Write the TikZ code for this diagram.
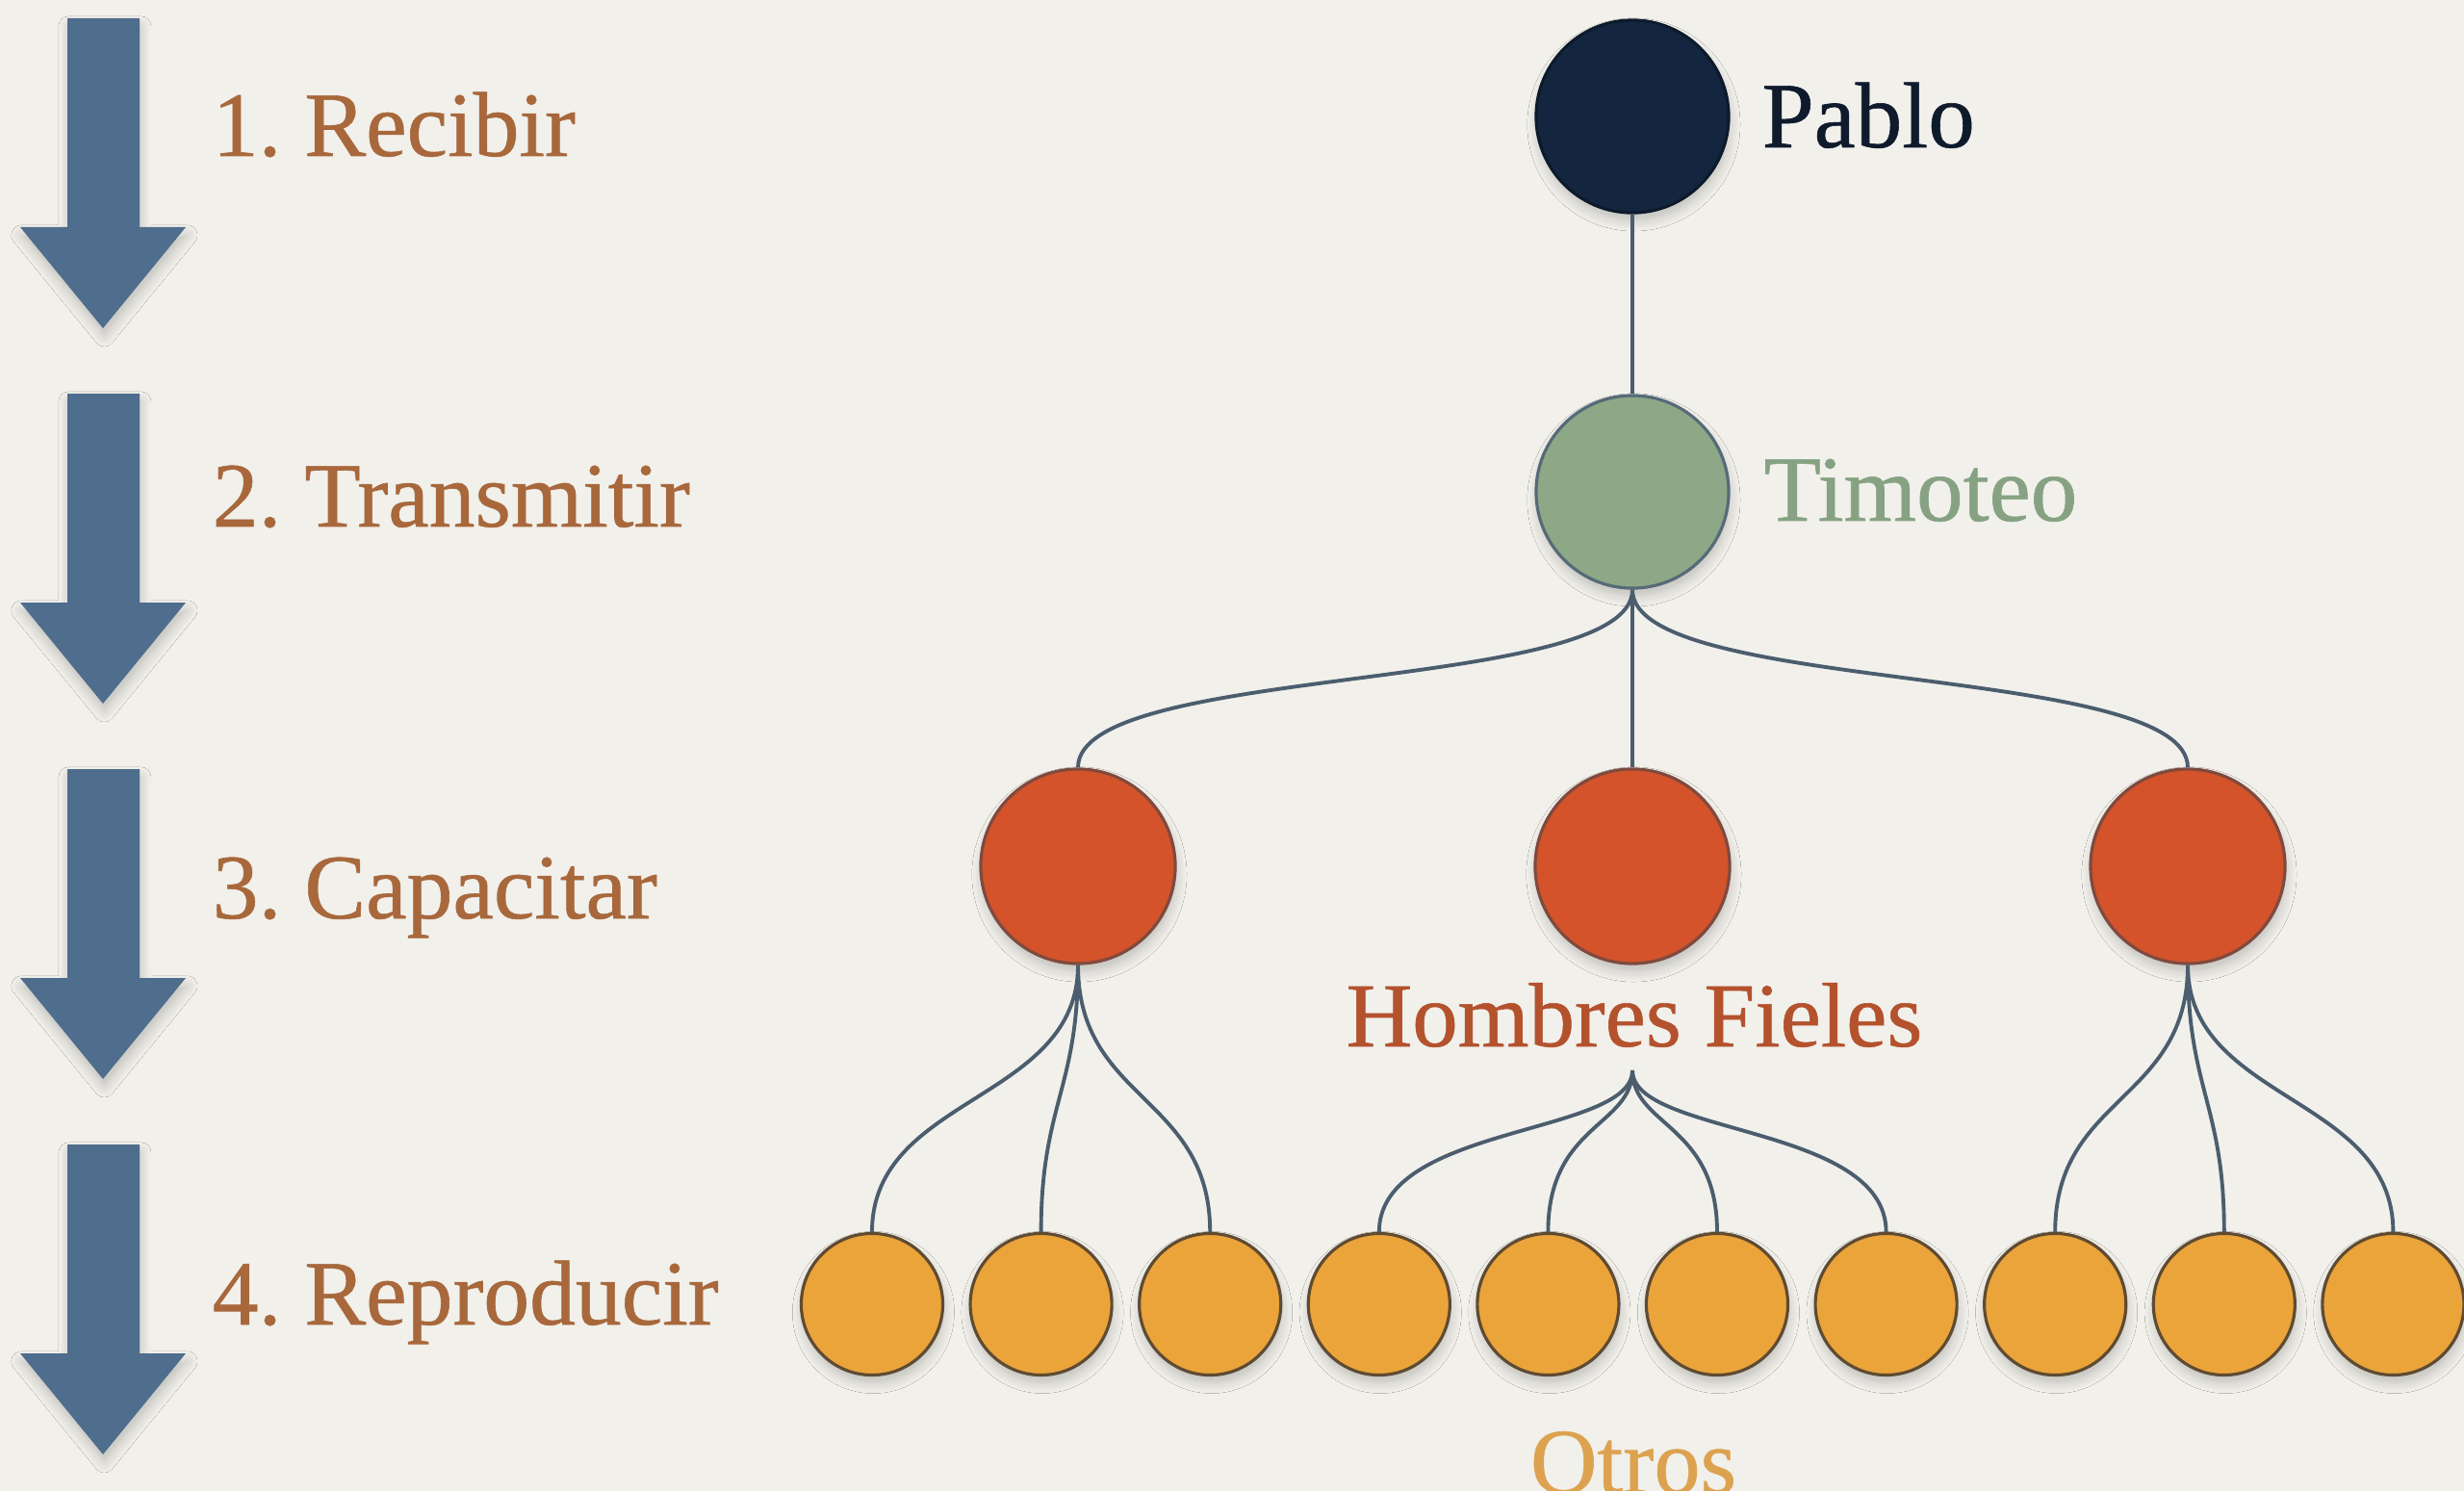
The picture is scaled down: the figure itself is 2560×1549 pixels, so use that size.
\documentclass[tikz,border=0pt]{standalone}
\usepackage{fontspec}
\setmainfont[FakeBold=0.6]{Liberation Serif}
\usetikzlibrary{shadows.blur}
\definecolor{bg}{HTML}{F1F0EB}
\definecolor{arrowblue}{HTML}{4F6D8C}
\definecolor{labbrown}{HTML}{A8683C}
\definecolor{navy}{HTML}{14263F}
\definecolor{navyedge}{HTML}{0D1A2C}
\definecolor{navytext}{HTML}{0F1B2D}
\definecolor{sage}{HTML}{8CA886}
\definecolor{sagetext}{HTML}{86A282}
\definecolor{edgeblue}{HTML}{566A78}
\definecolor{redfill}{HTML}{D4532A}
\definecolor{rededge}{HTML}{7F4A3E}
\definecolor{redtext}{HTML}{B4522E}
\definecolor{orangefill}{HTML}{EBA43A}
\definecolor{orangeedge}{HTML}{5F4B32}
\definecolor{goldtext}{HTML}{DDA24F}
\definecolor{linecol}{HTML}{4B5D6E}
\tikzset{
  softshadow/.style={blur shadow={shadow xshift=0.4pt, shadow yshift=-2.4pt, shadow blur radius=3pt, shadow blur steps=6, shadow opacity=20}},
  downarrow/.style={fill=arrowblue, softshadow},
  person/.style={circle, inner sep=0pt, line width=0.9pt, softshadow},
  pablo/.style={person, fill=navy, draw=navyedge, minimum size=2cm},
  timo/.style={person, fill=sage, draw=edgeblue, minimum size=2cm},
  fiel/.style={person, fill=redfill, draw=rededge, minimum size=2.02cm},
  otro/.style={person, fill=orangefill, draw=orangeedge, minimum size=1.47cm},
  steplabel/.style={inner sep=0pt, text=labbrown, font=\fontsize{27.2}{30}\selectfont, anchor=base west},
  personlabel/.style={inner sep=0pt, font=\fontsize{27.6}{31}\selectfont, anchor=base west},
  conn/.style={draw=linecol, line width=1.1pt},
}
\begin{document}
\frenchspacing
\begin{tikzpicture}[x=0.01cm,y=-0.01cm]
\fill[bg] (0,0) rectangle (2560,1549);
\useasboundingbox (0,0) rectangle (2560,1549);

% left arrows
\foreach \t in {0,390,780,1170}{
  \path[downarrow] (70,{19+\t}) -- (145,{19+\t}) -- (145,{236+\t}) -- (193,{236+\t})
    -- (107,{341+\t}) -- (21,{236+\t}) -- (70,{236+\t}) -- cycle;
}

% step labels
\node[steplabel] (L1) at (220,162) {1. Recibir};
\node[steplabel] (L2) at (220,547) {2. Transmitir};
\node[steplabel] (L3) at (220,954) {3. Capacitar};
\node[steplabel] (L4) at (220,1376) {4. Reproducir};

% tree nodes
\node[pablo] (P) at (1696,121) {};
\node[timo] (T) at (1696,511) {};
\node[fiel] (HL) at (1120,900) {};
\node[fiel] (HM) at (1696,900) {};
\node[fiel] (HR) at (2273,900) {};
\foreach \i in {0,...,9}{
  \node[otro] (O\i) at ({906+175.6*\i},1355) {};
}

% names
\node[personlabel, text=navytext] (NP) at (1830,153) {Pablo};
\node[personlabel, text=sagetext] (NT) at (1832,541) {Timoteo};
\node[inner sep=0pt, text=redtext, font=\fontsize{27}{30}\selectfont, anchor=base] (NH) at (1698,1087) {Hombres Fieles};
\node[inner sep=0pt, text=goldtext, font=\fontsize{27.4}{30}\selectfont, anchor=base] (NO) at (1697,1551) {Otros};
\coordinate (HF) at (1696,1112);

% connectors
\draw[conn] (P.south) -- (T.north);
\draw[conn] (T.south) .. controls +(0,109) and +(0,-109) .. (HL.north);
\draw[conn] (T.south) -- (HM.north);
\draw[conn] (T.south) .. controls +(0,109) and +(0,-109) .. (HR.north);

\draw[conn] (HL.south) .. controls +(0,142) and +(0,-142) .. (O0.north);
\draw[conn] (HL.south) .. controls +(0,129) and +(0,-132) .. (O1.north);
\draw[conn] (HL.south) .. controls +(0,142) and +(0,-142) .. (O2.north);

\draw[conn] (HF) .. controls +(0,68) and +(0,-112) .. (O3.north);
\draw[conn] (HF) .. controls +(0,58) and +(0,-112) .. (O4.north);
\draw[conn] (HF) .. controls +(0,58) and +(0,-112) .. (O5.north);
\draw[conn] (HF) .. controls +(0,68) and +(0,-112) .. (O6.north);

\draw[conn] (HR.south) .. controls +(0,142) and +(0,-142) .. (O7.north);
\draw[conn] (HR.south) .. controls +(0,129) and +(0,-132) .. (O8.north);
\draw[conn] (HR.south) .. controls +(0,142) and +(0,-142) .. (O9.north);
\end{tikzpicture}
\end{document}
